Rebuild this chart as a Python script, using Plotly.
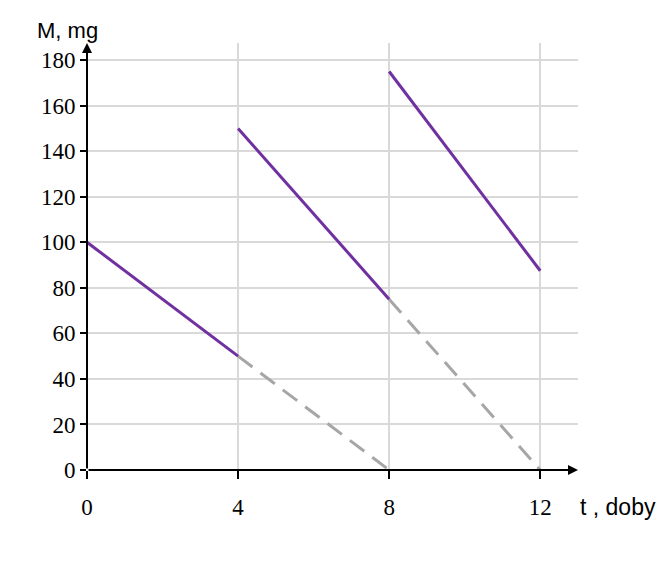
import plotly.graph_objects as go

seg_x = [[0, 4], [4, 8], [8, 12]]
seg_y = [[100, 50], [150, 75], [175, 87.5]]
dash_x = [[4, 8], [8, 12]]
dash_y = [[50, 0], [75, 0]]
xticks = [0, 4, 8, 12]
yticks = [0, 20, 40, 60, 80, 100, 120, 140, 160, 180]

fig = go.Figure()
for x, y in zip(dash_x, dash_y):
    fig.add_trace(go.Scatter(x=x, y=y, mode="lines", line=dict(color="#A6A6A6", width=3, dash="18px,10px")))
for x, y in zip(seg_x, seg_y):
    fig.add_trace(go.Scatter(x=x, y=y, mode="lines", line=dict(color="#7030A0", width=3)))

tf = dict(family="Liberation Serif", size=23, color="black")
fig.update_layout(
    width=666, height=578, showlegend=False,
    plot_bgcolor="white", paper_bgcolor="white",
    margin=dict(l=79, r=96, t=35, b=116, autoexpand=False),
    font=dict(family="Liberation Serif", size=22, color="black"),
)
fig.update_xaxes(range=[0, 13], tickvals=xticks, showgrid=True, gridcolor="#D9D9D9", gridwidth=1.5,
                 zeroline=False, showline=False, ticks="outside", ticklen=8, tickwidth=2, tickcolor="black",
                 tickfont=tf, automargin=False, ticklabelstandoff=8)
fig.update_yaxes(range=[0, 187.5], tickvals=yticks, showgrid=True, gridcolor="#D9D9D9", gridwidth=1.5,
                 zeroline=False, showline=False, ticks="outside", ticklen=6, tickwidth=2, tickcolor="black",
                 tickfont=tf, automargin=False)
fig.add_annotation(x=13, y=0, ax=0, ay=0, xref="x", yref="y", axref="x", ayref="y",
                   showarrow=True, arrowhead=2, arrowsize=1, arrowwidth=2, arrowcolor="black", text="")
fig.add_annotation(x=0, y=187.5, ax=0, ay=0, xref="x", yref="y", axref="x", ayref="y",
                   showarrow=True, arrowhead=2, arrowsize=1, arrowwidth=2, arrowcolor="black", text="")
fig.add_annotation(x=0, y=1.0, xref="paper", yref="paper", yanchor="bottom", xanchor="center",
                   text="M, mg", showarrow=False, font=dict(family="Liberation Sans", size=22), xshift=-20, yshift=-2)
fig.add_annotation(x=1.0, y=0, xref="paper", yref="paper", xanchor="left", yanchor="top", yshift=-22, xshift=0,
                   text="t , doby", showarrow=False, font=dict(family="Liberation Sans", size=23))
fig.write_html("out.html")
